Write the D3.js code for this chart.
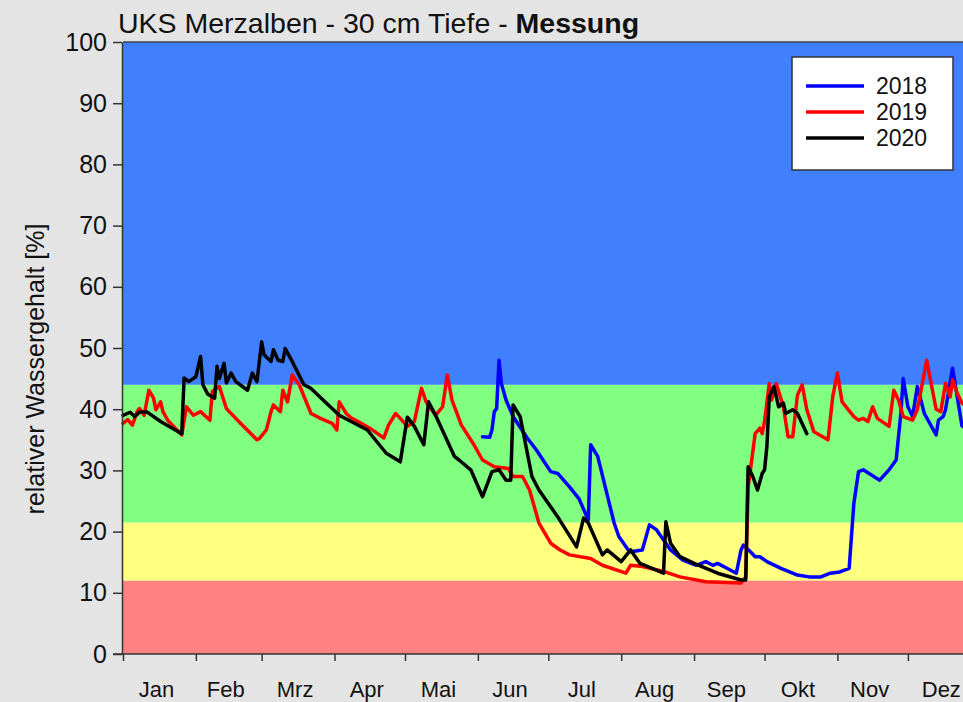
<!DOCTYPE html>
<html>
<head>
<meta charset="utf-8">
<script src="https://cdn.jsdelivr.net/npm/d3@7"></script>
<style>
    body { margin: 0; background: #e4e4e4; }
    svg { display: block; font-family: "Liberation Sans", Arial, sans-serif; }
</style>
</head>
<body>
<svg id="chart" width="963" height="702"></svg>
<script>
// month labels and the day of year each month starts on
const months = ['Jan', 'Feb', 'Mrz', 'Apr', 'Mai', 'Jun', 'Jul', 'Aug', 'Sep', 'Okt', 'Nov', 'Dez'];
const monthStarts = [0, 31, 59, 90, 120, 151, 181, 212, 243, 273, 304, 334];
const yTicks = [0, 10, 20, 30, 40, 50, 60, 70, 80, 90, 100];

// class limits of the background bands (rel. water content %)
const bandLimits = [0, 12, 21.5, 44, 100];

const years = ['2018', '2019', '2020'];

// [day of year, value]
const data2018 = [
    [153, 35.5], [156, 35.4], [157, 36.6], [158, 39.6], [159, 40.1], [160, 48], [161, 44.2],
    [163, 41.5], [166, 38.8], [172, 35.3], [176, 33.3], [182, 29.8], [185, 29.5], [190, 27.3],
    [194, 25.4], [198, 21.9], [199, 34.2], [202, 32.3], [209, 21.4], [211, 19.2], [215, 17],
    [216, 16.7], [221, 17], [224, 21.1], [227, 20.3], [229, 19.2], [233, 17], [238, 15.4],
    [244, 14.5], [248, 15.1], [251, 14.5], [253, 14.8], [257, 14], [261, 13.2], [263, 17],
    [264, 17.8], [267, 16.7], [269, 15.9], [271, 15.9], [274, 15.1], [280, 14], [287, 12.9],
    [292, 12.6], [297, 12.6], [301, 13.2], [305, 13.4], [309, 14], [311, 24.6], [313, 29.8],
    [315, 30.1], [322, 28.4], [326, 30.1], [329, 31.7], [330, 35.5], [331, 39.3], [332, 45],
    [334, 40.4], [336, 38.8], [338, 43.7], [341, 39.3], [346, 35.8], [347, 38.2], [349, 38.8],
    [350, 39.9], [353, 46.7], [355, 42], [357, 37.3], [360, 36.5]
];
const data2019 = [
    [0, 37.7], [2, 38.3], [4, 37.4], [6, 39.6], [7, 40.1], [9, 39], [11, 43.1], [13, 41.8],
    [14, 39.9], [16, 41.2], [17, 39.6], [19, 38.2], [21, 37.4], [25, 35.8], [27, 40.4],
    [30, 39], [33, 39.6], [37, 38.2], [38, 42.9], [41, 43.7], [44, 40.1], [50, 37.7],
    [57, 35], [58, 35.2], [61, 36.6], [63, 39.6], [64, 40.7], [67, 39.6], [68, 43.1],
    [70, 41.2], [72, 45.6], [75, 44], [80, 39.3], [84, 38.5], [89, 37.7], [91, 36.6],
    [92, 41.2], [95, 39.3], [97, 38.6], [100, 38], [105, 36.9], [111, 35.3], [113, 37.4],
    [116, 39.3], [118, 38.5], [121, 37.2], [124, 38], [127, 43.4], [129, 41.2], [133, 39],
    [136, 40.4], [138, 45.6], [140, 41.5], [144, 37.4], [149, 34.4], [153, 31.7], [158, 30.6],
    [164, 30.3], [166, 29], [170, 29], [173, 26.8], [177, 21.4], [182, 18.1], [186, 17],
    [190, 16.2], [199, 15.6], [204, 14.5], [214, 13.2], [216, 14.5], [221, 14.3], [230, 13.5],
    [237, 12.6], [248, 11.8], [263, 11.6], [265, 12.6], [266, 27.3], [267, 30.1], [269, 36],
    [271, 36.9], [272, 36], [273, 38], [275, 44.2], [276, 41.5], [278, 44.2], [281, 40.4],
    [283, 35.5], [285, 35.5], [287, 42.3], [289, 44], [291, 39.9], [294, 36.3], [300, 35],
    [302, 42], [304, 45.9], [306, 41.2], [311, 38.8], [313, 38.2], [315, 38.5], [317, 38],
    [319, 40.4], [321, 38.5], [326, 37.2], [328, 43.1], [330, 41.5], [332, 38.8], [336, 38.2],
    [338, 39.9], [342, 48], [343, 46], [346, 40], [348, 39.6], [350, 44.2], [352, 42],
    [353, 44.8], [355, 42.6], [357, 41], [360, 40]
];
const data2020 = [
    [0, 39], [3, 39.5], [5, 38.8], [7, 39.5], [10, 39.6], [16, 38], [25, 36], [26, 45.1],
    [28, 44.5], [31, 45.3], [33, 48.6], [34, 44], [36, 42.5], [39, 41.8], [40, 47], [41, 45],
    [43, 47.5], [44, 44.3], [46, 45.9], [48, 44.5], [53, 43.1], [55, 45.9], [57, 44.5],
    [59, 51], [60, 48.9], [63, 47.8], [64, 49.7], [66, 48], [68, 47.8], [69, 49.9], [72, 47.8],
    [77, 44], [80, 43.4], [92, 39], [104, 36.6], [112, 32.8], [118, 31.4], [121, 38.7],
    [124, 37.2], [128, 34.2], [130, 41.2], [133, 39], [141, 32.3], [143, 31.7], [148, 30.1],
    [153, 25.7], [157, 29.8], [160, 30.1], [163, 28.4], [165, 28.4], [166, 40.7], [169, 38.8],
    [174, 29], [177, 26.8], [185, 22.4], [193, 17.5], [196, 22.2], [198, 21.4], [204, 16.2],
    [206, 17], [212, 15.1], [216, 17], [220, 14.8], [230, 13.2], [231, 21.6], [233, 18.1],
    [237, 15.9], [243, 14.8], [253, 13.2], [263, 12.1], [265, 12.1], [266, 30.6], [268, 29],
    [270, 26.8], [272, 29.5], [273, 30.1], [274, 33.9], [275, 42], [277, 43.7], [279, 40.4],
    [281, 41], [282, 39.3], [285, 39.9], [287, 39.3], [291, 36]
];

const bandColors = ['#ff8080', '#ffff80', '#80ff80', '#4080ff'];
const lineColors = ['#0000ff', '#ff0000', '#000000'];

const svg = d3.select('#chart');
const plotLeft = 123, plotTop = 42, plotBottom = 654;
const plotRight = plotLeft + 365 * 2.35;

const x = d3.scaleLinear().domain([0, 365]).range([plotLeft, plotRight]);
const y = d3.scaleLinear().domain([0, 100]).range([plotBottom, plotTop]);

// background bands
svg.append('g')
    .selectAll('rect')
    .data(d3.pairs(bandLimits))
    .enter()
    .append('rect')
    .attr('x', plotLeft)
    .attr('width', plotRight - plotLeft)
    .attr('y', d => y(d[1]))
    .attr('height', d => y(d[0]) - y(d[1]))
    .attr('fill', (d, i) => bandColors[i]);

// top border of the plot
svg.append('line')
    .attr('x1', plotLeft).attr('x2', plotRight)
    .attr('y1', plotTop).attr('y2', plotTop)
    .attr('stroke', '#444').attr('stroke-width', 1.5);

// lines
const line = d3.line()
    .x(d => x(d[0]))
    .y(d => y(d[1]));

[data2018, data2019, data2020].forEach(function(series, i) {
    svg.append('path')
        .datum(series)
        .attr('d', line)
        .attr('fill', 'none')
        .attr('stroke', lineColors[i])
        .attr('stroke-width', 3.5)
        .attr('stroke-linejoin', 'round')
        .attr('stroke-linecap', 'round');
});

// axes
const yAxis = svg.append('g')
    .attr('transform', 'translate(' + (plotLeft - 1) + ',0)')
    .call(d3.axisLeft(y).tickValues(yTicks).tickSize(9).tickPadding(6).tickSizeOuter(0));
yAxis.selectAll('text')
    .attr('font-size', 25)
    .attr('fill', '#111')
    .attr('font-family', '"Liberation Sans", Arial, sans-serif');

const xAxis = svg.append('g')
    .attr('transform', 'translate(0,' + plotBottom + ')')
    .call(d3.axisBottom(x).tickValues(monthStarts).tickFormat('').tickSize(7).tickSizeOuter(0));
xAxis.select('.domain').attr('d', 'M' + (plotLeft - 10) + ',0H' + plotRight);

[yAxis, xAxis].forEach(function(a) {
    a.selectAll('line').attr('stroke', '#333').attr('stroke-width', 1.5);
    a.select('.domain').attr('stroke', '#333').attr('stroke-width', 1.5);
});

svg.append('g')
    .selectAll('text')
    .data(months)
    .enter()
    .append('text')
    .attr('x', (d, i) => x((monthStarts[i] + (i < 11 ? monthStarts[i + 1] : 365)) / 2) - 3)
    .attr('y', 697)
    .attr('text-anchor', 'middle')
    .attr('font-size', 22)
    .attr('fill', '#111')
    .text(d => d);

// y axis title
svg.append('text')
    .attr('transform', 'translate(44,369) rotate(-90)')
    .attr('text-anchor', 'middle')
    .attr('font-size', 25)
    .attr('fill', '#111')
    .text('relativer Wassergehalt [%]');

// chart title
const title = svg.append('text')
    .attr('x', 118)
    .attr('y', 33)
    .attr('font-size', 28.5)
    .attr('fill', '#111');
title.append('tspan').text('UKS Merzalben - 30 cm Tiefe - ');
title.append('tspan').attr('font-weight', 'bold').text('Messung');

// legend
const legend = svg.append('g').attr('transform', 'translate(792,57)');
legend.append('rect')
    .attr('width', 161)
    .attr('height', 113)
    .attr('fill', '#fff')
    .attr('stroke', '#333')
    .attr('stroke-width', 1.5);
const item = legend.selectAll('g.item')
    .data(years)
    .enter()
    .append('g')
    .attr('class', 'item')
    .attr('transform', (d, i) => 'translate(0,' + (29 + i * 26) + ')');
item.append('line')
    .attr('x1', 14).attr('x2', 72)
    .attr('stroke', (d, i) => lineColors[i])
    .attr('stroke-width', 3.5);
item.append('text')
    .attr('x', 84)
    .attr('dy', '0.36em')
    .attr('font-size', 23)
    .attr('fill', '#111')
    .text(d => d);
</script>
</body>
</html>
